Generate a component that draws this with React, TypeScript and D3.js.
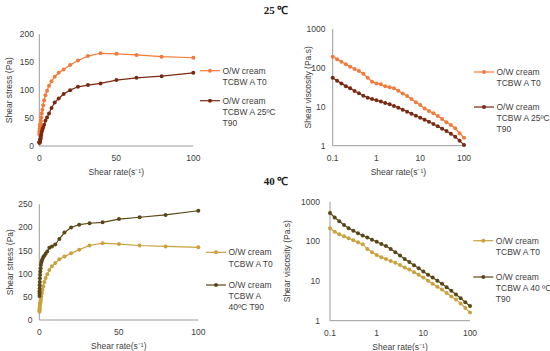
import React from 'react';
import * as d3 from 'd3';

// shear rates (s^-1), 10 points per decade
const shearRates = [0.1, 0.126, 0.158, 0.2, 0.251, 0.316, 0.398, 0.501, 0.631, 0.794, 1, 1.26, 1.58, 2, 2.51, 3.16, 3.98, 5.01, 6.31, 7.94, 10, 12.6, 15.8, 20, 25.1, 31.6, 39.8, 50.1, 63.1, 79.4, 100];

// 25 °C
const stressT0_25 = [20, 22, 24, 26, 28, 31, 34, 37, 38, 40, 45, 51, 58, 65, 73, 82, 91, 99, 108, 116, 124, 131, 137, 145, 153, 161, 166, 165, 163, 160, 158];
const stressT90_25 = [5.6, 6, 6.5, 7, 7.5, 8.5, 9, 10, 11.5, 13.5, 16, 20, 25, 29, 33, 38, 45, 51, 58, 68, 78, 85, 93, 100, 106, 109, 112, 118, 122, 125, 131];
const viscT0_25 = [194, 166, 144, 124, 107, 94, 83, 71, 56, 44, 40, 38, 34, 32, 30, 26, 22, 19, 15.8, 13, 11.1, 9.1, 7.8, 6.8, 5.8, 4.85, 4.0, 3.4, 2.8, 2.08, 1.6];
const viscT90_25 = [56, 47, 40, 34, 30, 25.5, 22.2, 19.3, 17.2, 15.8, 14.7, 13.6, 12.5, 11.6, 10.5, 9.5, 8.4, 7.5, 6.65, 5.9, 5.25, 4.67, 4.14, 3.6, 3.15, 2.74, 2.39, 2.04, 1.7, 1.35, 1.05];

// 40 °C
const stressT0_40 = [18, 20, 22, 24, 27, 30, 33, 36, 38, 40, 45, 51, 58, 65, 73, 82, 91, 99, 108, 116, 123, 131, 137, 144, 152, 161, 166, 164, 161, 159, 157];
const stressT90_40 = [52, 57, 62, 68, 75, 82, 90, 98, 105, 112, 119, 124, 128, 132, 136, 139, 143, 148, 156, 159, 163, 175, 189, 200, 206, 209, 211, 218, 222, 227, 236];
const viscT0_40 = [214, 176, 151, 134, 120, 107, 95, 85, 64, 53, 45, 40, 36, 32, 29, 25.5, 21.8, 19.4, 16.6, 14.3, 12.2, 10.1, 8.6, 7.2, 6.1, 5.0, 4.1, 3.4, 2.7, 2.1, 1.6];
const viscT90_40 = [520, 400, 320, 260, 215, 185, 160, 140, 125, 110, 98, 86, 76, 64, 53, 44, 36, 30, 25, 21, 17.5, 14.5, 12.2, 10.2, 8.5, 7.0, 5.7, 4.6, 3.7, 2.9, 2.35];

const linTicksX = [0, 50, 100];
const stressTicks25 = [0, 50, 100, 150, 200];
const stressTicks40 = [0, 50, 100, 150, 200, 250];
const logTicksX = [0.1, 1, 10, 100];
const logTicksY = [1, 10, 100, 1000];

const FONT = '"Liberation Sans", Arial, sans-serif';
const AXIS = '#9a9a9a';
const TXT = '#404040';

type Series = { values: number[]; color: string; label: string[] };

type PanelProps = {
  log: boolean;
  left: number; right: number; top: number; bottom: number;
  yMax: number; yTicks: number[];
  yTitle: string; yTitleX: number;
  tickRight: number;
  series: Series[];
  legendX: number; legendY: number[];
};

function Panel(p: PanelProps) {
  const x = p.log
    ? d3.scaleLog().domain([0.1, 100]).range([p.left, p.right])
    : d3.scaleLinear().domain([0, 100]).range([p.left, p.right]);
  const y = p.log
    ? d3.scaleLog().domain([1, 1000]).range([p.bottom, p.top])
    : d3.scaleLinear().domain([0, p.yMax]).range([p.bottom, p.top]);
  const xTicks = p.log ? logTicksX : linTicksX;
  const line = d3.line<number>()
    .x((_, i) => x(shearRates[i]))
    .y(d => y(d));
  return (
    <g fontFamily={FONT} fill={TXT}>
      <line x1={p.left} x2={p.left} y1={p.top} y2={p.bottom} stroke={AXIS} strokeWidth={1} />
      <line x1={p.left} x2={p.right} y1={p.bottom} y2={p.bottom} stroke={AXIS} strokeWidth={1} />
      {p.yTicks.map(t => (
        <text key={t} x={p.tickRight} y={y(t) + 3} fontSize={8.5} textAnchor="end">{t}</text>
      ))}
      {xTicks.map(t => (
        <text key={t} x={x(t)} y={p.bottom + 15} fontSize={8.5} textAnchor="middle">{t}</text>
      ))}
      <text x={(p.left + p.right) / 2} y={p.bottom + 29} fontSize={8.5} textAnchor="middle">Shear rate(s⁻¹)</text>
      <text transform={`translate(${p.yTitleX},${(p.top + p.bottom) / 2}) rotate(-90)`} fontSize={8.5} textAnchor="middle" dy="0.35em">{p.yTitle}</text>
      {p.series.map((s, si) => (
        <g key={si}>
          <path d={line(s.values) || ''} fill="none" stroke={s.color} strokeWidth={1.2} />
          {s.values.map((v, i) => (
            <circle key={i} cx={x(shearRates[i])} cy={y(v)} r={2} fill={s.color} />
          ))}
          <line x1={p.legendX} x2={p.legendX + 20} y1={p.legendY[si]} y2={p.legendY[si]} stroke={s.color} strokeWidth={1.2} />
          <circle cx={p.legendX + 10} cy={p.legendY[si]} r={2} fill={s.color} />
          {s.label.map((l, li) => (
            <text key={li} x={p.legendX + 22.5} y={p.legendY[si] + 3 + li * 11.2} fontSize={8.5}>{l}</text>
          ))}
        </g>
      ))}
    </g>
  );
}

export default function App() {
  const c25a = '#f47a3a';
  const c25b = '#7a2a12';
  const c40a = '#c9a23d';
  const c40b = '#5a4718';
  return (
    <svg width={550} height={351} style={{ position: 'absolute', left: 0, top: 0, background: '#fff' }}>
      <text x={276} y={14} fontFamily='"Liberation Serif", serif' fontWeight="bold" fontSize={11} textAnchor="middle" fill="#222">25 ℃</text>
      <text x={276} y={185} fontFamily='"Liberation Serif", serif' fontWeight="bold" fontSize={11} textAnchor="middle" fill="#222">40 ℃</text>
      <Panel log={false} left={39.3} right={193.3} top={34.3} bottom={146} yMax={200} yTicks={stressTicks25}
        yTitle="Shear stress (Pa)" yTitleX={9.5} tickRight={34}
        series={[
          { values: stressT0_25, color: c25a, label: ['O/W cream', 'TCBW A T0'] },
          { values: stressT90_25, color: c25b, label: ['O/W cream', 'TCBW A 25ºC', 'T90'] },
        ]}
        legendX={200} legendY={[70.7, 100.7]} />
      <Panel log={true} left={332.7} right={464} top={29} bottom={145.7} yMax={1000} yTicks={logTicksY}
        yTitle="Shear viscosity (Pa.s)" yTitleX={308.5} tickRight={325.5}
        series={[
          { values: viscT0_25, color: c25a, label: ['O/W cream', 'TCBW A T0'] },
          { values: viscT90_25, color: c25b, label: ['O/W cream', 'TCBW A 25ºC', 'T90'] },
        ]}
        legendX={474} legendY={[72, 107]} />
      <Panel log={false} left={39.3} right={198.3} top={204.3} bottom={320} yMax={250} yTicks={stressTicks40}
        yTitle="Shear stress (Pa)" yTitleX={10} tickRight={32.5}
        series={[
          { values: stressT0_40, color: c40a, label: ['O/W cream', 'TCBW A T0'] },
          { values: stressT90_40, color: c40b, label: ['O/W cream', 'TCBW A', '40ºC T90'] },
        ]}
        legendX={206} legendY={[252.3, 285]} />
      <Panel log={true} left={330} right={470} top={201.7} bottom={320.7} yMax={1000} yTicks={logTicksY}
        yTitle="Shear viscosity (Pa.s)" yTitleX={287} tickRight={320}
        series={[
          { values: viscT0_40, color: c40a, label: ['O/W cream', 'TCBW A T0'] },
          { values: viscT90_40, color: c40b, label: ['O/W cream', 'TCBW A 40 ºC', 'T90'] },
        ]}
        legendX={473.3} legendY={[240.7, 277]} />
    </svg>
  );
}
